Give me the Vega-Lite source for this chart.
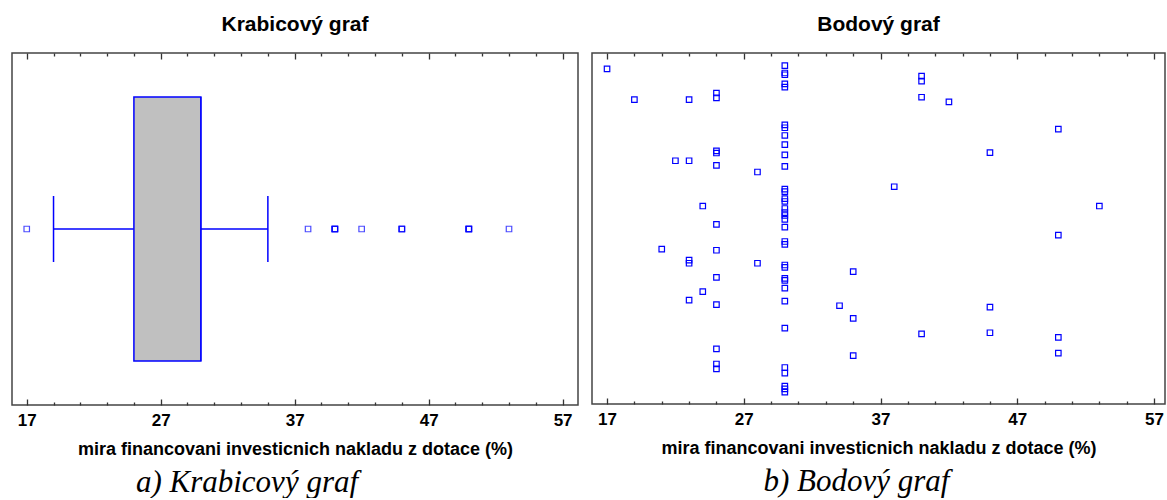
{
  "$schema": "https://vega.github.io/schema/vega-lite/v6.json",
  "padding": {"left": 11, "top": 13, "right": 2, "bottom": 0},
  "background": "white",
  "datasets": {
    "mira": [
      {"mira": 17, "rozptyl": 95.5},
      {"mira": 19, "rozptyl": 86.7},
      {"mira": 21, "rozptyl": 44.1},
      {"mira": 22, "rozptyl": 69.3},
      {"mira": 23, "rozptyl": 86.7},
      {"mira": 23, "rozptyl": 69.3},
      {"mira": 23, "rozptyl": 41.0},
      {"mira": 23, "rozptyl": 40.1},
      {"mira": 23, "rozptyl": 29.6},
      {"mira": 24, "rozptyl": 56.4},
      {"mira": 24, "rozptyl": 32.0},
      {"mira": 25, "rozptyl": 88.6},
      {"mira": 25, "rozptyl": 87.2},
      {"mira": 25, "rozptyl": 72.1},
      {"mira": 25, "rozptyl": 71.5},
      {"mira": 25, "rozptyl": 68.0},
      {"mira": 25, "rozptyl": 51.2},
      {"mira": 25, "rozptyl": 43.8},
      {"mira": 25, "rozptyl": 36.1},
      {"mira": 25, "rozptyl": 28.3},
      {"mira": 25, "rozptyl": 15.7},
      {"mira": 25, "rozptyl": 11.4},
      {"mira": 25, "rozptyl": 10.0},
      {"mira": 28, "rozptyl": 66.1},
      {"mira": 28, "rozptyl": 40.1},
      {"mira": 30, "rozptyl": 96.4},
      {"mira": 30, "rozptyl": 94.3},
      {"mira": 30, "rozptyl": 93.8},
      {"mira": 30, "rozptyl": 91.2},
      {"mira": 30, "rozptyl": 90.3},
      {"mira": 30, "rozptyl": 79.5},
      {"mira": 30, "rozptyl": 78.7},
      {"mira": 30, "rozptyl": 76.5},
      {"mira": 30, "rozptyl": 73.9},
      {"mira": 30, "rozptyl": 71.0},
      {"mira": 30, "rozptyl": 67.7},
      {"mira": 30, "rozptyl": 61.2},
      {"mira": 30, "rozptyl": 60.5},
      {"mira": 30, "rozptyl": 58.5},
      {"mira": 30, "rozptyl": 57.7},
      {"mira": 30, "rozptyl": 55.7},
      {"mira": 30, "rozptyl": 54.5},
      {"mira": 30, "rozptyl": 53.7},
      {"mira": 30, "rozptyl": 52.6},
      {"mira": 30, "rozptyl": 50.4},
      {"mira": 30, "rozptyl": 46.3},
      {"mira": 30, "rozptyl": 45.5},
      {"mira": 30, "rozptyl": 39.6},
      {"mira": 30, "rozptyl": 38.9},
      {"mira": 30, "rozptyl": 35.8},
      {"mira": 30, "rozptyl": 35.2},
      {"mira": 30, "rozptyl": 33.0},
      {"mira": 30, "rozptyl": 29.3},
      {"mira": 30, "rozptyl": 21.6},
      {"mira": 30, "rozptyl": 10.4},
      {"mira": 30, "rozptyl": 8.8},
      {"mira": 30, "rozptyl": 5.1},
      {"mira": 30, "rozptyl": 4.3},
      {"mira": 30, "rozptyl": 3.4},
      {"mira": 34, "rozptyl": 28.0},
      {"mira": 35, "rozptyl": 37.7},
      {"mira": 35, "rozptyl": 24.4},
      {"mira": 35, "rozptyl": 13.8},
      {"mira": 38, "rozptyl": 61.9},
      {"mira": 40, "rozptyl": 93.4},
      {"mira": 40, "rozptyl": 92.0},
      {"mira": 40, "rozptyl": 87.4},
      {"mira": 40, "rozptyl": 20.0},
      {"mira": 42, "rozptyl": 86.1},
      {"mira": 45, "rozptyl": 71.6},
      {"mira": 45, "rozptyl": 27.6},
      {"mira": 45, "rozptyl": 20.3},
      {"mira": 50, "rozptyl": 78.3},
      {"mira": 50, "rozptyl": 48.1},
      {"mira": 50, "rozptyl": 19.0},
      {"mira": 50, "rozptyl": 14.5},
      {"mira": 53, "rozptyl": 56.4}
    ]
  },
  "spacing": 12,
  "hconcat": [
    {
      "title": {
        "text": "a) Krabicový graf", "orient": "bottom", "dx": -48, "offset": 9,
        "font": "Liberation Serif, Times New Roman, serif", "fontSize": 31,
        "fontStyle": "italic", "fontWeight": "normal", "color": "#000000"
      },
      "vconcat": [
        {
          "title": {
            "text": "Krabicový graf", "offset": 18,
            "font": "Liberation Sans, Arial, sans-serif", "fontSize": 21,
            "fontWeight": "bold", "color": "#000000"
          },
          "width": 566,
          "height": 352,
          "data": {"name": "mira"},
          "mark": {
            "type": "boxplot",
            "extent": 1.5,
            "size": 264,
            "box": {"color": "#c0c0c0", "stroke": "#0000ff", "strokeWidth": 1.5},
            "median": {"color": "#0000ff", "thickness": 1.5},
            "rule": {"color": "#0000ff", "strokeWidth": 1.5},
            "ticks": {"color": "#0000ff", "size": 66, "thickness": 1.5},
            "outliers": {"shape": "square", "filled": false, "color": "#0000ff", "size": 30, "strokeWidth": 1.2}
          },
          "encoding": {
            "x": {
              "field": "mira",
              "type": "quantitative",
              "scale": {"domain": [15.9, 58.15], "nice": false, "zero": false},
              "axis": {
                "title": "mira financovani investicnich nakladu z dotace (%)",
                "values": [17, 19, 21, 23, 25, 27, 29, 31, 33, 35, 37, 39, 41, 43, 45, 47, 49, 51, 53, 55, 57],
                "labelExpr": "(datum.value - 17) % 10 === 0 ? datum.label : ''",
                "gridDash": {"condition": {"test": "(datum.value - 17) % 10 === 0", "value": [6, 340, 6]}, "value": [3, 346, 3]}
              }
            }
          }
        }
      ]
    },
    {
      "title": {
        "text": "b) Bodový graf", "orient": "bottom", "dx": -22, "offset": 9,
        "font": "Liberation Serif, Times New Roman, serif", "fontSize": 31,
        "fontStyle": "italic", "fontWeight": "normal", "color": "#000000"
      },
      "vconcat": [
        {
          "title": {
            "text": "Bodový graf", "offset": 18,
            "font": "Liberation Sans, Arial, sans-serif", "fontSize": 21,
            "fontWeight": "bold", "color": "#000000"
          },
          "width": 573,
          "height": 351,
          "data": {"name": "mira"},
          "mark": {"type": "point", "shape": "square", "filled": false, "color": "#0000ff", "size": 30, "strokeWidth": 1.2, "opacity": 1},
          "encoding": {
            "x": {
              "field": "mira",
              "type": "quantitative",
              "scale": {"domain": [15.9, 57.8], "nice": false, "zero": false},
              "axis": {
                "title": "mira financovani investicnich nakladu z dotace (%)",
                "values": [17, 19, 21, 23, 25, 27, 29, 31, 33, 35, 37, 39, 41, 43, 45, 47, 49, 51, 53, 55, 57],
                "labelExpr": "(datum.value - 17) % 10 === 0 ? datum.label : ''",
                "gridDash": {"condition": {"test": "(datum.value - 17) % 10 === 0", "value": [6, 339, 6]}, "value": [3, 345, 3]}
              }
            },
            "y": {
              "field": "rozptyl",
              "type": "quantitative",
              "scale": {"domain": [0, 100], "nice": false, "zero": false},
              "axis": null
            }
          }
        }
      ]
    }
  ],
  "config": {
    "view": {"stroke": "#444444", "strokeWidth": 1.5},
    "title": {"anchor": "middle"},
    "axisX": {
      "orient": "bottom",
      "ticks": false,
      "grid": true,
      "gridColor": "#333333",
      "gridWidth": 1.3,
      "gridOpacity": 1,
      "domain": false,
      "labelFlush": false,
      "labelOverlap": false,
      "labelFont": "Liberation Sans, Arial, sans-serif",
      "labelFontSize": 17,
      "labelFontWeight": "bold",
      "labelColor": "#000000",
      "labelPadding": 7,
      "titleFont": "Liberation Sans, Arial, sans-serif",
      "titleFontSize": 18,
      "titleFontWeight": "bold",
      "titleColor": "#000000",
      "titlePadding": 12
    }
  }
}
